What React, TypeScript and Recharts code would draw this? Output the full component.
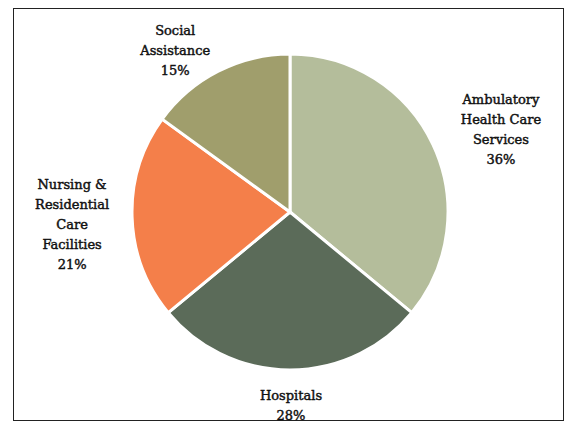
import React from "react";
import { PieChart, Pie, Cell } from "recharts";

const CATEGORIES = [
  "Ambulatory\nHealth Care\nServices",
  "Hospitals",
  "Nursing &\nResidential\nCare\nFacilities",
  "Social\nAssistance",
];
const SHARES = [36, 28, 21, 15];
const COLORS = ["#b4bd9b", "#5b6b59", "#f47f4a", "#a09e6c"];
const LABEL_NUDGE = [
  [30, 2],
  [1, -7],
  [-18, 6],
  [-24, 16],
];

const data = CATEGORIES.map((name, i) => ({ name, value: SHARES[i] }));

const RAD = Math.PI / 180;

const renderLabel = (props: any) => {
  const { cx, cy, midAngle, index, name, value } = props;
  const d = 200;
  const x = cx + d * Math.cos(-midAngle * RAD) + LABEL_NUDGE[index][0];
  const y = cy + d * Math.sin(-midAngle * RAD) + LABEL_NUDGE[index][1];
  const lines = [...String(name).split("\n"), `${value}%`];
  const lh = 20;
  const y0 = y - ((lines.length - 1) * lh) / 2;
  return (
    <text
      x={x}
      y={y0}
      textAnchor="middle"
      dominantBaseline="central"
      fill="#111"
      stroke="#111"
      strokeWidth={0.45}
      fontFamily="'DejaVu Serif', serif"
      fontSize={13}
    >
      {lines.map((ln, i) => (
        <tspan key={i} x={x} dy={i === 0 ? 0 : lh}>
          {ln}
        </tspan>
      ))}
    </text>
  );
};

export default function App() {
  return (
    <div style={{ position: "absolute", left: 0, top: 0, width: 572, height: 425, background: "#fff" }}>
      <div
        style={{
          position: "absolute",
          left: 13,
          top: 8,
          width: 551,
          height: 413,
          border: "1.5px solid #222",
          boxSizing: "border-box",
        }}
      />
      <PieChart width={572} height={425} style={{ position: "absolute", left: 0, top: 0 }}>
        <Pie
          data={data}
          dataKey="value"
          nameKey="name"
          cx={285}
          cy={207}
          outerRadius={158}
          startAngle={90}
          endAngle={-270}
          stroke="#fff"
          strokeWidth={3}
          label={renderLabel}
          labelLine={false}
          isAnimationActive={false}
        >
          {data.map((_, i) => (
            <Cell key={i} fill={COLORS[i]} />
          ))}
        </Pie>
      </PieChart>
    </div>
  );
}
